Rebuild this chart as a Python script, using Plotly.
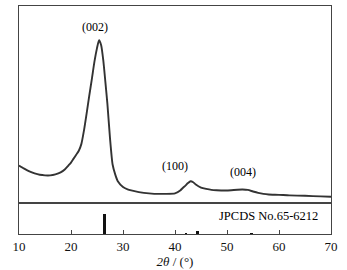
import plotly.graph_objects as go

# XRD pattern (2theta in degrees, intensity a.u.)
two_theta = [10, 11, 12, 13, 14, 15, 16, 17, 18, 18.8, 19.5, 20, 20.5, 21, 21.5, 22, 22.5, 23, 23.5,
             24, 24.5, 25, 25.4, 25.8, 26.2, 26.6, 27, 27.5, 28, 28.5, 29, 30, 31, 32, 34, 36,
             38, 40, 41, 41.5, 42, 42.5, 43, 43.5, 44, 45, 46, 47, 48, 50, 52, 53, 54, 55,
             56, 57, 58, 60, 62, 65, 68, 70]
intensity = [18.9, 17.3, 15.9, 14.9, 14.2, 13.9, 13.9, 14.4, 15.4, 16.9, 18.9, 20.4, 22.4, 24.4,
             26.4, 29.9, 36.8, 45.3, 54.2, 62.7, 71.6, 78.6, 82.6, 80.1, 72.6, 61.7, 50.2, 32.8,
             19.4, 14.4, 10.9, 8.0, 6.7, 6.0, 5.0, 4.5, 4.5, 4.7, 6.2, 7.5, 8.7, 10.0, 10.9, 10.4,
             9.2, 7.7, 7.0, 6.5, 6.3, 6.2, 6.6, 6.7, 6.5, 5.7, 5.0, 4.5, 4.2, 4.0, 3.7, 3.5, 3.2, 3.0]

# Reference card sticks (JPCDS No.65-6212)
ref_pos = [26.5, 42.2, 44.4, 54.8]
ref_int = [21, 1, 3, 1]

peak_labels = ["(002)", "(100)", "(004)"]
peak_label_x = [24.6, 40.0, 53.1]
peak_label_y = [84.5, 14, 11]

tick_vals = [10, 20, 30, 40, 50, 60, 70]

FONT = "Liberation Serif"
fig = go.Figure()
fig.add_trace(go.Scatter(x=two_theta, y=intensity, mode="lines",
                         line=dict(color="#333333", width=1.9, shape="spline", smoothing=0.6),
                         xaxis="x", yaxis="y", showlegend=False))
fig.add_trace(go.Bar(x=ref_pos, y=ref_int, width=0.38, marker=dict(color="#111111", line=dict(width=0)),
                     xaxis="x2", yaxis="y2", showlegend=False))

for t, x, y in zip(peak_labels, peak_label_x, peak_label_y):
    fig.add_annotation(x=x, y=y, xref="x", yref="y", text=t, showarrow=False,
                       font=dict(family=FONT, size=12, color="#000000"), yanchor="bottom")

fig.add_annotation(x=67.9, y=18, xref="x2", yref="y2", text="JPCDS No.65-6212", showarrow=False,
                   xanchor="right", yanchor="middle", font=dict(family=FONT, size=12.5, color="#000000"))

frame = "#444444"
fig.update_layout(
    width=347, height=270,
    margin=dict(l=19, r=16, t=5, b=32),
    paper_bgcolor="white", plot_bgcolor="white",
    font=dict(family=FONT, size=13, color="#111111"),
    xaxis=dict(domain=[0, 1], range=[10, 70], anchor="y", showticklabels=False, ticks="",
               showgrid=False, zeroline=False, showline=True, mirror=True, linecolor=frame, linewidth=1.2),
    yaxis=dict(domain=[0.1373, 1], range=[0, 100], showticklabels=False, ticks="", showgrid=False,
               zeroline=False, showline=True, mirror=True, linecolor=frame, linewidth=1.2),
    xaxis2=dict(domain=[0, 1], range=[10, 70], anchor="y2", tickvals=tick_vals, ticks="inside",
                ticklen=4, tickcolor=frame, showgrid=False, zeroline=False, showline=True, mirror=True,
                linecolor=frame, linewidth=1.2, tickfont=dict(family=FONT, size=13),
                title=dict(text="<i>2θ</i> / (°)", font=dict(family=FONT, size=13), standoff=2)),
    yaxis2=dict(domain=[0, 0.1373], range=[0, 32], showticklabels=False, ticks="", showgrid=False,
                zeroline=False, showline=True, mirror=True, linecolor=frame, linewidth=1.2),
    bargap=0,
)
fig.write_html("out.html", config={"displayModeBar": False},
               post_script="document.body.style.margin='0';document.body.style.overflow='hidden';")
